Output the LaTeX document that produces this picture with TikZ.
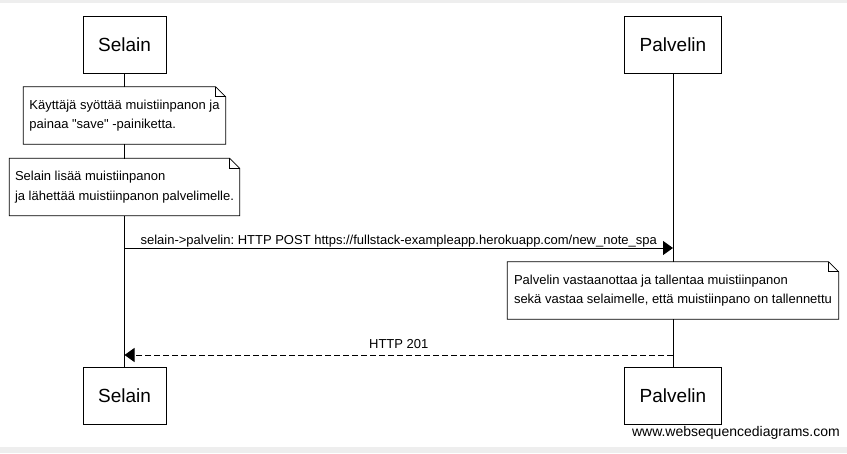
\documentclass[tikz,border=0pt]{standalone}
\usepackage{fontspec}
\setmainfont{Liberation Sans}[Ligatures=TeXOff]
\usepackage{xcolor}
\usetikzlibrary{arrows.meta}
\usetikzlibrary{calc}
\definecolor{stripgrey}{HTML}{EEEEEE}
\frenchspacing

\tikzset{
    actorbox/.style={draw, line width=1pt, fill=white, minimum height=57pt, inner xsep=15pt, font=\fontsize{19}{23}\selectfont},
    notebox/.style={fill=white, align=left, minimum height=57pt, inner xsep=5pt, font=\fontsize{13}{19.5}\selectfont},
    noteline/.style={line width=0.8pt},
    lifeline/.style={line width=1pt},
    msgarrow/.style={line width=1pt, -{Triangle[length=10pt,width=14pt]}},
    replyarrow/.style={msgarrow, dash pattern=on 6pt off 3pt},
    msglabel/.style={font=\fontsize{13}{15}\selectfont, anchor=base, inner sep=0pt}
}

\begin{document}
\begin{tikzpicture}[x=1pt, y=-1pt]
        \newcommand{\seqselainx}{124.5}
        \newcommand{\seqpalvelinx}{673}
        \newcommand{\seqtopy}{44.5}
        \newcommand{\seqboty}{395.5}
        \newcommand{\seqposty}{248}
        \newcommand{\seqreplyy}{355}
        \useasboundingbox (0,0) rectangle (847,453);
        \fill[stripgrey] (0,0) rectangle (847,3);
        \fill[stripgrey] (0,447) rectangle (847,453);
        % participants, top and bottom
        \node[actorbox, minimum width=83pt] (selaintop) at (\seqselainx,\seqtopy) {Selain};
        \node[actorbox, minimum width=96pt] (palvelintop) at (\seqpalvelinx,\seqtopy) {Palvelin};
        \node[actorbox, minimum width=83pt] (selainbot) at (\seqselainx,\seqboty) {Selain};
        \node[actorbox, minimum width=96pt] (palvelinbot) at (\seqpalvelinx,\seqboty) {Palvelin};
        \draw[lifeline] (selaintop) -- (selainbot);
        \draw[lifeline] (palvelintop) -- (palvelinbot);
        % notes
        \node[notebox, minimum width=202pt] (keynote) at (\seqselainx,115.5) {Käyttäjä syöttää muistiinpanon ja\\painaa "save" -painiketta.};
        \node[notebox, minimum width=230pt] (addnote) at (\seqselainx,187) {Selain lisää muistiinpanon\\ja lähettää muistiinpanon palvelimelle.};
        \node[notebox, minimum width=331pt] (savenote) at (\seqpalvelinx,290.5) {Palvelin vastaanottaa ja tallentaa muistiinpanon\\sekä vastaa selaimelle, että muistiinpano on tallennettu};
        \foreach \n in {keynote,addnote,savenote} {
            \draw[noteline] (\n.south west) -- (\n.north west) -- ([xshift=-10pt]\n.north east) -- ([yshift=-10pt]\n.north east) -- (\n.south east) -- cycle;
            \draw[noteline] ([xshift=-10pt]\n.north east) |- ([yshift=-10pt]\n.north east);
        }
        % messages
        \coordinate (posts) at (\seqselainx,\seqposty);
        \coordinate (postp) at (\seqpalvelinx,\seqposty);
        \coordinate (replyp) at (\seqpalvelinx,\seqreplyy);
        \coordinate (replys) at (\seqselainx,\seqreplyy);
        \draw[msgarrow] (posts) -- node[msglabel, midway, yshift=3.5pt] {selain->palvelin: HTTP POST https://fullstack-exampleapp.herokuapp.com/new\_note\_spa} (postp);
        \draw[replyarrow] (replyp) -- node[msglabel, midway, yshift=6.5pt] {HTTP 201} (replys);
        \node[anchor=east, inner sep=0pt, font=\fontsize{14}{16}\selectfont] (wsdmark) at (840,433) {www.websequencediagrams.com};
    \end{tikzpicture}
\end{document}
